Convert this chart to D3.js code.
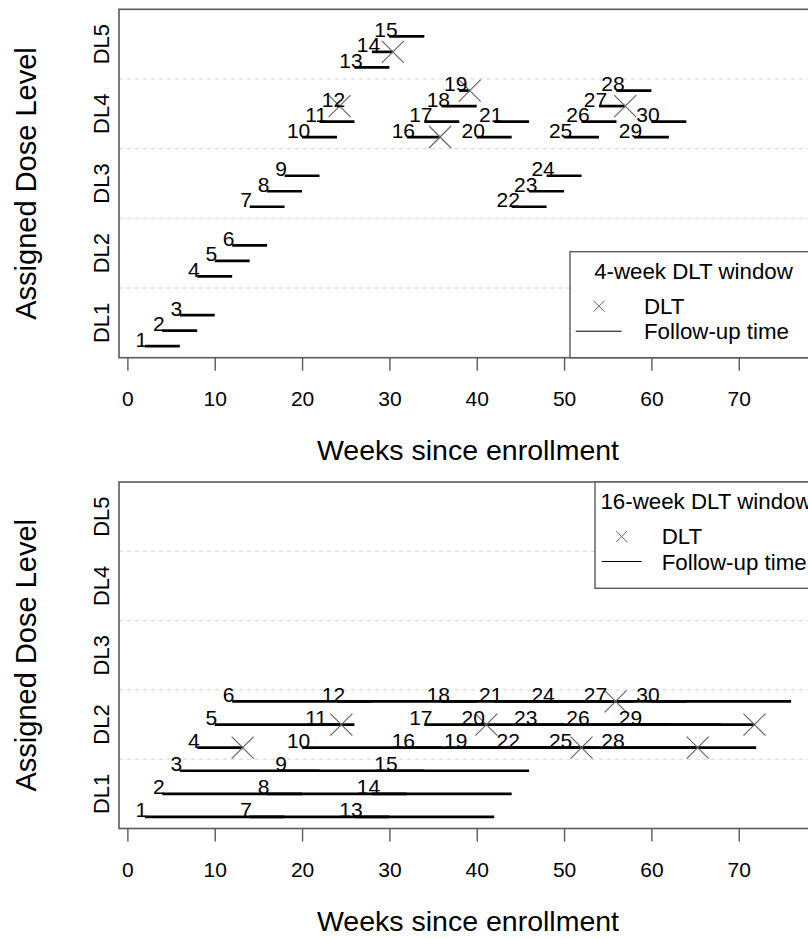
<!DOCTYPE html>
<html>
<head>
<meta charset="utf-8">
<script src="https://cdn.jsdelivr.net/npm/d3@7"></script>
<style>
  body { margin: 0; background: #fff; }
  svg { display: block; font-family: "Liberation Sans", Arial, sans-serif; }
</style>
</head>
<body>
<div id="chart"></div>
<script>
// shared
const patients   = [1,2,3,4,5,6,7,8,9,10,11,12,13,14,15,16,17,18,19,20,21,22,23,24,25,26,27,28,29,30];
const enrollWeek = [2,4,6,8,10,12,14,16,18,20,22,24,26,28,30,32,34,36,38,40,42,44,46,48,50,52,54,56,58,60];
const weekTicks  = [0,10,20,30,40,50,60,70];
const doseLabels = ["DL1","DL2","DL3","DL4","DL5"];

// panel A : 4-week DLT window
const doseA = [1,1,1,2,2,2,3,3,3,4,4,4,5,5,5,4,4,4,4,4,4,3,3,3,4,4,4,4,4,4];
const rowA  = [0,1,2,0,1,2,0,1,2,0,1,2,0,1,2,0,1,2,3,0,1,0,1,2,0,1,2,3,0,1];
const dltPatientA = [12,14,16,19,27];
const dltWeekA    = [24.3,30.4,35.8,39.2,57.0];

// panel B : 16-week DLT window
const doseB = [1,1,1,2,2,2,1,1,1,2,2,2,1,1,1,2,2,2,2,2,2,2,2,2,2,2,2,2,2,2];
const rowB  = [0,1,2,0,1,2,0,1,2,0,1,2,0,1,2,0,1,2,0,1,2,0,1,2,0,1,2,0,1,2];
const dltPatientB = [4,11,20,22,25,27,29];
const dltWeekB    = [13.2,24.5,41.1,52.0,65.3,55.9,71.8];

const AXIS_COL = '#5a5a5a';

class Panel{
  constructor(opts){
    Object.assign(this, opts);
  }

  draw(svg){
    this.x = d3.scaleLinear().domain([-0.96, 78.96]).range([119, 817]);
    this.y = d3.scaleLinear().domain([0.5, 5.5]).range([this.bottom, this.top]);
    this.g = svg.append('g');

    this.addGrid();
    this.addPatients();
    this.addAxes();
    this.addLegend();
  }

  rowOffset(r){
    return -1/3 + r * (2/3) / (this.nRows - 1);
  }

  addGrid(){
    this.g.selectAll('.grid').data([1.5,2.5,3.5,4.5]).enter()
      .append('line')
      .attr('x1', this.x.range()[0]).attr('x2', this.x.range()[1])
      .attr('y1', d => this.y(d)).attr('y2', d => this.y(d))
      .attr('stroke', '#d3d3d3').attr('stroke-width', 1)
      .attr('stroke-dasharray', '4,4');
  }

  addPatients(){
    const rows = patients.map((p, i) => {
      const k = this.dltPatient.indexOf(p);
      const dlt = k >= 0 ? this.dltWeek[k] : null;
      return {
        id: p,
        start: enrollWeek[i],
        end: dlt !== null ? Math.min(dlt, enrollWeek[i] + this.window) : enrollWeek[i] + this.window,
        dlt: dlt,
        yv: this.dose[i] + this.rowOffset(this.row[i])
      };
    });

    this.g.selectAll('.fu').data(rows).enter()
      .append('line')
      .attr('x1', d => this.x(d.start)).attr('x2', d => this.x(d.end))
      .attr('y1', d => this.y(d.yv)).attr('y2', d => this.y(d.yv))
      .attr('stroke', '#000').attr('stroke-width', 2.7);

    this.g.selectAll('.dlt').data(rows.filter(d => d.dlt !== null)).enter()
      .append('path')
      .attr('transform', d => `translate(${this.x(d.dlt)},${this.y(d.yv)})`)
      .attr('d', 'M-11,-11L11,11M-11,11L11,-11')
      .attr('stroke', '#666').attr('stroke-width', 1.2).attr('fill', 'none');

    this.g.selectAll('.lab').data(rows).enter()
      .append('text')
      .attr('x', d => this.x(d.start - 0.4))
      .attr('y', d => this.y(d.yv) + 0.5)
      .attr('text-anchor', 'middle')
      .attr('font-size', 21)
      .attr('fill', '#000')
      .text(d => d.id);
  }

  addAxes(){
    const [x0, x1] = this.x.range();
    this.g.append('rect')
      .attr('x', x0).attr('y', this.top)
      .attr('width', x1 - x0).attr('height', this.bottom - this.top)
      .attr('fill', 'none').attr('stroke', AXIS_COL).attr('stroke-width', 1.6);

    const ax = this.g.append('g')
      .attr('transform', `translate(0,${this.bottom})`)
      .call(d3.axisBottom(this.x).tickValues(weekTicks).tickSize(13).tickPadding(20.9).tickFormat(d3.format('d')));
    ax.select('.domain').remove();
    ax.selectAll('line').attr('stroke', AXIS_COL).attr('stroke-width', 1.4);
    ax.selectAll('text').attr('font-size', 21).attr('fill', '#000')
      .style('font-family', '"Liberation Sans", Arial, sans-serif');

    this.g.selectAll('.dl').data(doseLabels).enter()
      .append('text')
      .attr('transform', (d, i) => `translate(109,${this.y(i + 1)}) rotate(-90)`)
      .attr('text-anchor', 'middle')
      .attr('font-size', 22)
      .text(d => d);

    this.g.append('text')
      .attr('transform', `translate(36,${(this.top + this.bottom) / 2}) rotate(-90)`)
      .attr('text-anchor', 'middle')
      .attr('font-size', 29)
      .text('Assigned Dose Level');

    this.g.append('text')
      .attr('x', (x0 + x1) / 2)
      .attr('y', this.bottom + 102.5)
      .attr('text-anchor', 'middle')
      .attr('font-size', 28.5)
      .text('Weeks since enrollment');
  }

  addLegend(){
    const L = this.legend;
    const right = this.x.range()[1];
    const lg = this.g.append('g');
    lg.append('rect')
      .attr('x', L.x0).attr('y', L.y0)
      .attr('width', right - L.x0).attr('height', L.y1 - L.y0)
      .attr('fill', '#fff').attr('stroke', AXIS_COL).attr('stroke-width', 1.4);
    lg.append('text')
      .attr('x', (L.x0 + right) / 2).attr('y', L.y0 + 27)
      .attr('text-anchor', 'middle').attr('font-size', 22.3)
      .text(this.title);
    lg.append('path')
      .attr('transform', `translate(${L.markX},${L.y0 + 54.5})`)
      .attr('d', 'M-5.5,-5.5L5.5,5.5M-5.5,5.5L5.5,-5.5')
      .attr('stroke', '#666').attr('stroke-width', 1).attr('fill', 'none');
    lg.append('text')
      .attr('x', L.textX).attr('y', L.y0 + 62)
      .attr('font-size', 22.3).text('DLT');
    lg.append('line')
      .attr('x1', L.lineX0).attr('x2', L.lineX1)
      .attr('y1', L.y0 + 79.5).attr('y2', L.y0 + 79.5)
      .attr('stroke', '#000').attr('stroke-width', 1);
    lg.append('text')
      .attr('x', L.textX).attr('y', L.y0 + 87.5)
      .attr('font-size', 22.3).text('Follow-up time');
  }
}

const svg = d3.select('#chart').append('svg')
  .attr('width', 808).attr('height', 939);

new Panel({
  top: 9.3, bottom: 357.7, nRows: 4, window: 4,
  dose: doseA, row: rowA, dltPatient: dltPatientA, dltWeek: dltWeekA,
  title: '4-week DLT window',
  legend: {x0: 570, y0: 251.7, y1: 357.7, markX: 599, textX: 644, lineX0: 575.7, lineX1: 621.7}
}).draw(svg);

new Panel({
  top: 482, bottom: 828.5, nRows: 3, window: 16,
  dose: doseB, row: rowB, dltPatient: dltPatientB, dltWeek: dltWeekB,
  title: '16-week DLT window',
  legend: {x0: 595, y0: 482, y1: 588.3, markX: 621.7, textX: 661.7, lineX0: 601.7, lineX1: 641.7}
}).draw(svg);
</script>
</body>
</html>
